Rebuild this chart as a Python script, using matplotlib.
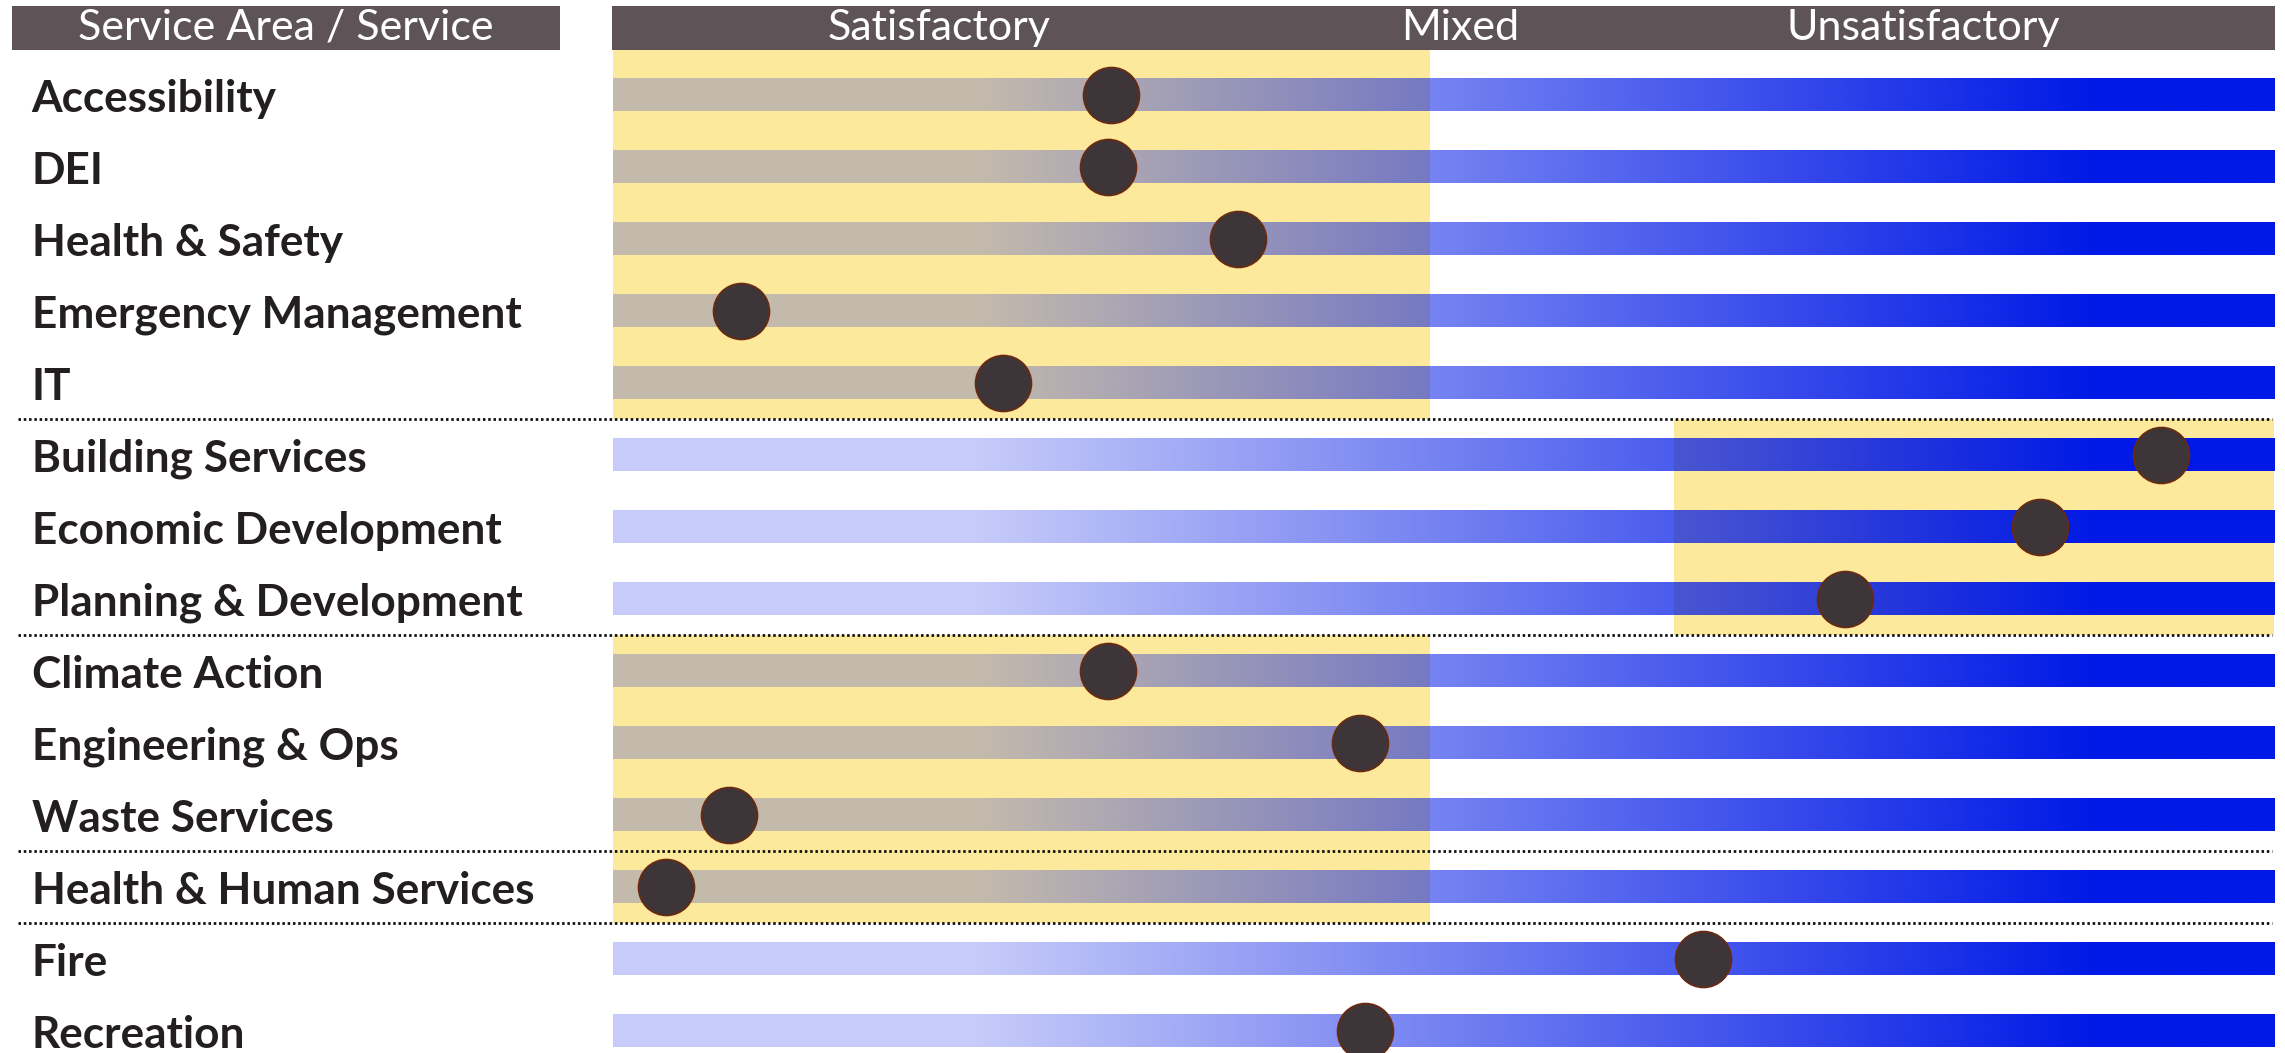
import numpy as np
import matplotlib.pyplot as plt
from matplotlib.patches import Rectangle

# service rows, top to bottom
services = ['Accessibility', 'DEI', 'Health & Safety', 'Emergency Management', 'IT',
            'Building Services', 'Economic Development', 'Planning & Development',
            'Climate Action', 'Engineering & Ops', 'Waste Services',
            'Health & Human Services', 'Fire', 'Recreation']
# position on the satisfactory (0) .. unsatisfactory (100) scale
scores = [30.0, 29.8, 37.6, 7.7, 23.5, 93.2, 85.9, 74.2, 29.8, 45.0, 7.0, 3.2, 65.6, 45.3]
ratings = ['Satisfactory'] * 5 + ['Unsatisfactory'] * 3 + ['Satisfactory'] * 4 + ['Mixed'] * 2
# dotted separator after these rows
separators_after = [4, 7, 10, 11]

columns = ['Satisfactory', 'Mixed', 'Unsatisfactory']
column_pos = [19.6, 51.0, 78.9]
# highlighted span of the scale for each rating
rating_span = {'Satisfactory': (0, 49.2), 'Unsatisfactory': (63.9, 100)}

HEADER = '#5e5356'
YELLOW = '#fde99b'
BLUE = (0 / 255, 25 / 255, 230 / 255)
TEXT = '#231f20'

plt.rcParams['font.family'] = ['Lato', 'DejaVu Sans']

fig = plt.figure(figsize=(22.85, 10.53), dpi=100)
ax = fig.add_axes([0, 0, 1, 1])
ax.axis('off')

n = len(services)
rows = np.arange(n)
header_top, header_bot = -1.236, -0.625

# yellow highlight bands for runs of the same rating
start = 0
for i in range(1, n + 1):
    if i == n or ratings[i] != ratings[start]:
        r = ratings[start]
        if r in rating_span:
            x0, x1 = rating_span[r]
            top = header_bot if start == 0 else start - 0.5
            ax.add_patch(Rectangle((x0, top), x1 - x0, (i - 0.5) - top,
                                   facecolor=YELLOW, edgecolor='none', zorder=1))
        start = i

# bars: blue with a transparency gradient
u = np.linspace(0, 100, 1001)
alpha = np.clip(0.227 + (u - 22) / (89 - 22) * (1 - 0.227), 0.227, 1.0)
grad = np.zeros((1, len(u), 4))
grad[..., 0], grad[..., 1], grad[..., 2] = BLUE
grad[..., 3] = alpha
bar_h = 0.45
for i in rows:
    ax.imshow(grad, extent=(0, 100, i + bar_h / 2, i - bar_h / 2), aspect='auto',
              interpolation='bilinear', zorder=2)

# separators
for s in separators_after:
    ax.plot([-35.8, 99.9], [s + 0.5, s + 0.5], color='#111111', lw=2.0,
            linestyle=(0, (0.9, 1.0)), zorder=3)

# headers
ax.add_patch(Rectangle((-36.2, header_top), 33.0, header_bot - header_top,
                       facecolor=HEADER, edgecolor='none', zorder=3))
ax.add_patch(Rectangle((-0.06, header_top), 100.12, header_bot - header_top,
                       facecolor=HEADER, edgecolor='none', zorder=3))
hy = (header_top + header_bot) / 2
ax.text(-19.7, hy, 'Service Area / Service', color='white', fontsize=31,
        fontweight='normal', ha='center', va='center', zorder=4)
for name, x in zip(columns, column_pos):
    ax.text(x, hy, name, color='white', fontsize=31, fontweight='normal',
            ha='center', va='center', zorder=4)

# row labels
for i, name in zip(rows, services):
    ax.text(-35.0, i + 0.23, name, color=TEXT, fontsize=31.8, fontweight='bold',
            ha='left', va='baseline', zorder=4)

# score markers
ax.scatter(scores, rows, s=1625, c='#3d3537', edgecolors='#6b2a0e',
           linewidths=1.2, zorder=5)

ax.set_xlim(-36.9, 100.66)
ax.set_ylim(13.306, -1.319)

fig.savefig('out.png', dpi=100)
